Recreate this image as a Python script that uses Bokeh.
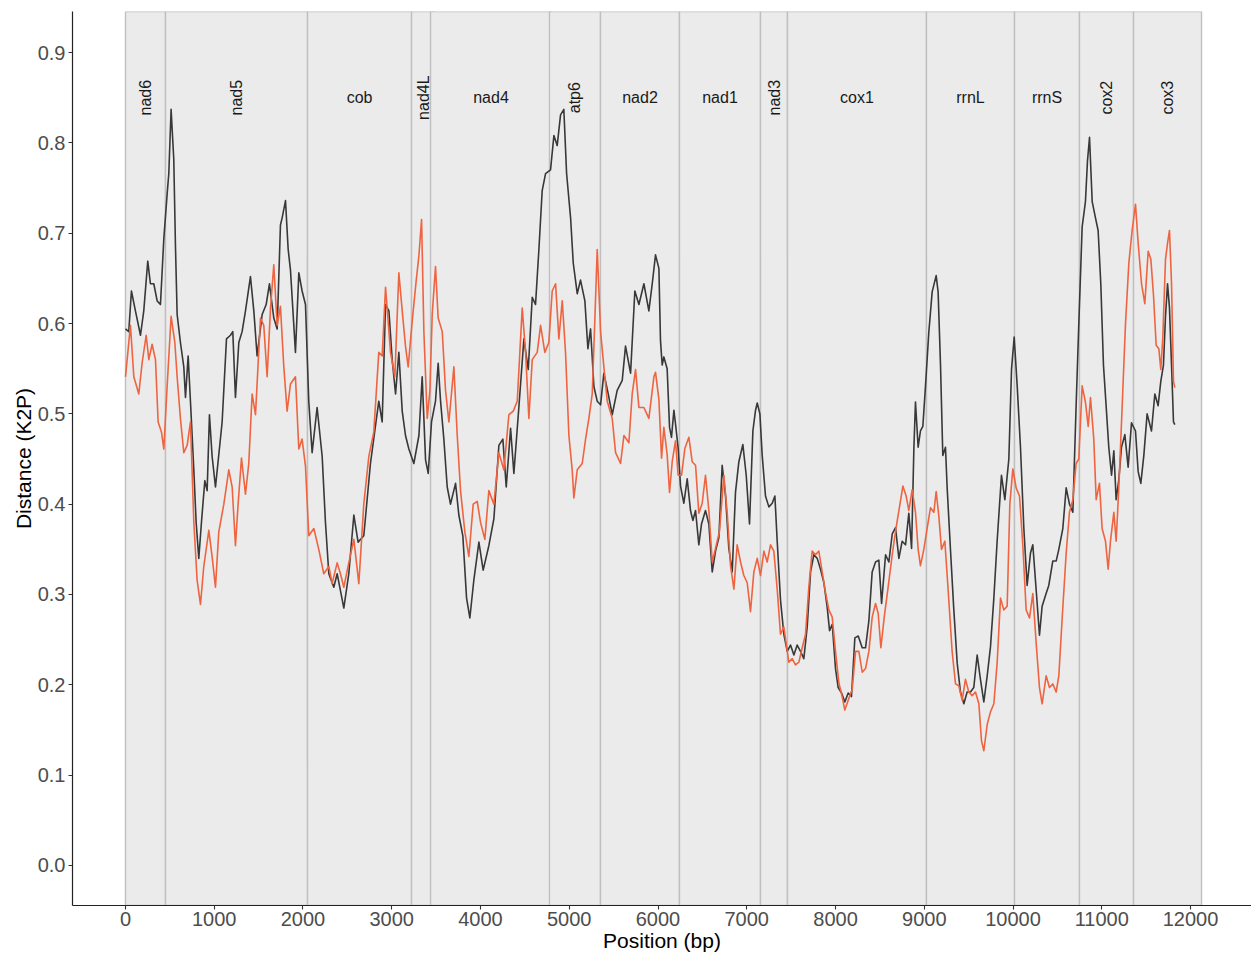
from bokeh.plotting import figure
from bokeh.models import FixedTicker, PrintfTickFormatter, NumeralTickFormatter, ColumnDataSource
from bokeh.core.properties import value
from bokeh.embed import file_html
from bokeh.resources import INLINE
import math

# ---------------- data ----------------
gene_names = ["nad6", "nad5", "cob", "nad4L", "nad4", "atp6", "nad2", "nad1",
              "nad3", "cox1", "rrnL", "rrnS", "cox2", "cox3"]
gene_start = [0, 451, 2051, 3223, 3437, 4777, 5352, 6242, 7155, 7459, 9025, 10017, 10749, 11358]
gene_end = [451, 2051, 3223, 3482, 4800, 5352, 6242, 7155, 7459, 9025, 10017, 10749, 11358, 12124]
vertical_labels = ["nad6", "nad5", "nad4L", "atp6", "nad3", "cox2", "cox3"]

dark_pos = [0, 37, 67, 112, 169, 206, 251, 281, 319, 357, 394, 432, 469, 488, 514, 544, 563, 582, 619, 657,
            676, 706, 732, 770, 796, 826, 856, 894, 920, 946, 976, 1014, 1089, 1138, 1183, 1209, 1239, 1277,
            1314, 1352, 1408, 1446, 1483, 1540, 1585, 1622, 1671, 1709, 1746, 1765, 1803, 1833, 1859, 1915,
            1953, 1990, 2028, 2065, 2103, 2159, 2216, 2253, 2291, 2347, 2385, 2460, 2516, 2573, 2621, 2685,
            2760, 2854, 2892,
            2930, 2968, 3005, 3043, 3080, 3118, 3155, 3193, 3249, 3306, 3343, 3381, 3411, 3448, 3493, 3523,
            3550, 3587, 3625, 3662, 3719, 3756, 3801, 3843, 3880, 3925, 3982, 4030, 4094, 4151, 4207, 4252,
            4290, 4339, 4376, 4432, 4489, 4538, 4583, 4620, 4658, 4695, 4733, 4789, 4827, 4864, 4902, 4939,
            4970, 5015, 5045, 5090, 5127, 5176, 5210, 5240, 5278, 5315, 5353, 5390, 5439, 5484, 5540, 5597,
            5634, 5691, 5739, 5785, 5841, 5897, 5935,
            5972, 6010, 6028, 6047, 6066, 6103, 6130, 6152, 6179, 6197, 6227, 6254, 6291, 6329, 6366, 6393,
            6423, 6460, 6490, 6535, 6573, 6611, 6648, 6686, 6723, 6761, 6798, 6836, 6873, 6911, 6956, 6994,
            7031, 7069, 7099, 7118, 7148, 7174, 7211, 7249, 7287, 7317, 7343, 7380, 7418, 7456, 7493, 7531,
            7568, 7606, 7643, 7681, 7719, 7756, 7794, 7831, 7869, 7906, 7933, 7963, 8000, 8030, 8068, 8105,
            8143, 8180, 8218, 8256, 8301, 8338, 8376, 8413, 8451, 8488, 8519, 8564, 8601, 8639, 8676, 8714,
            8751, 8789, 8826, 8857, 8883,
            8901, 8931, 8957, 8984, 9014, 9051, 9089, 9134, 9156, 9183, 9209, 9239, 9258, 9295, 9333, 9371,
            9408, 9446, 9483, 9521, 9558, 9596, 9633, 9671, 9709, 9746, 9784, 9821, 9870, 9908, 9953, 9983,
            10013, 10047, 10084, 10122, 10159, 10197, 10223, 10261, 10298, 10328, 10373, 10403, 10448, 10486,
            10516, 10561, 10599, 10636, 10674, 10711, 10741, 10779, 10816, 10839, 10862, 10892, 10929, 10959,
            10989, 11019, 11049, 11079, 11110, 11136, 11162, 11192, 11222, 11260, 11297, 11335, 11380, 11410,
            11440, 11474, 11511, 11560, 11598, 11635, 11665, 11695, 11718, 11741, 11763, 11786, 11808, 11823]
dark_k2p = [.594, .591, .636, .614, .587, .614, .669, .644, .644, .625, .621, .694, .743, .766, .837, .782, .686,
            .610, .579, .552, .518, .564, .514, .438, .380, .340, .380, .426, .415, .499, .453, .419, .491, .583,
            .587, .591, .518, .579, .591, .614, .652, .614, .564, .610, .621, .644, .606, .594, .709, .717, .736,
            .682, .659, .568, .656, .636, .621, .514, .457, .507, .453, .380, .323, .308, .323, .285, .323, .388,
            .358, .365, .445, .514, .491,
            .621, .614, .560, .522, .568, .503, .476, .461, .445, .476, .541, .449, .434, .491, .514, .556, .514,
            .472, .419, .400, .423, .388, .365, .296, .274, .316, .358, .327, .354, .384, .465, .472, .419, .484,
            .434, .507, .583, .549, .629, .621, .682, .747, .766, .770, .808, .797, .831, .837, .766, .717, .667,
            .633, .648, .625, .572, .594, .530, .514, .510, .545, .522, .499, .526, .537, .575, .545, .636, .621,
            .644, .614, .644,
            .676, .661, .581, .554, .563, .550, .485, .474, .504, .489, .462, .420, .401, .428, .393, .382, .393,
            .355, .378, .393, .378, .325, .348, .363, .443, .409, .351, .325, .413, .447, .466, .432, .378, .481,
            .504, .512, .500, .454, .409, .397, .401, .409, .359, .294, .256, .237, .244, .233, .244, .237, .229,
            .264, .325, .344, .340, .328, .313, .286, .260, .267, .218, .197, .191, .181, .191, .187, .252, .254,
            .241, .241, .271, .325, .336, .338, .290, .344, .336, .367, .374, .340, .359, .355, .390, .351, .462,
            .513, .463, .481, .486, .531, .590, .635, .653, .635, .554, .454, .463, .418, .350, .283, .224, .192,
            .179, .192, .192, .197, .233, .206, .181, .210, .242, .296, .359, .432, .405, .450, .549, .585, .531,
            .463, .373, .310, .346, .355, .305, .255, .287, .301, .310, .337, .337, .350, .373, .418, .400, .391,
            .509, .599, .707, .735, .780, .806, .735, .717, .703, .644, .554, .509, .463, .432, .459, .405, .427,
            .463, .477, .441, .490, .481, .436, .423, .454, .500, .481, .522, .509, .536, .554, .608, .644, .617,
            .554, .491, .488]

orange_pos = [0, 56, 94, 150, 187, 233, 263, 300, 338, 368, 405, 432, 469, 514, 556, 582, 619, 657, 695, 732,
              770, 807, 845, 882, 939, 976, 1014, 1051, 1108, 1164, 1202, 1239, 1269, 1307, 1352, 1389, 1427,
              1465, 1521, 1558, 1596, 1634, 1671, 1709, 1746, 1784, 1821, 1859, 1915, 1953, 1990, 2028, 2065,
              2122, 2178, 2234, 2291, 2328, 2385, 2422, 2460, 2516, 2573, 2629, 2685, 2742, 2798, 2854, 2892,
              2930, 2986, 3035, 3080, 3118, 3155, 3185, 3230, 3276, 3306, 3336, 3362, 3400, 3430, 3456, 3493,
              3523, 3569, 3606, 3644, 3700, 3738, 3775, 3824, 3869, 3918, 3963, 4000, 4049, 4094, 4151, 4207,
              4263, 4320, 4369, 4414, 4470, 4508, 4545, 4583, 4639, 4677, 4725, 4770, 4808, 4846, 4883, 4921,
              4958, 4996, 5033, 5052, 5090, 5146, 5184, 5221, 5259, 5289, 5315, 5353, 5390, 5428, 5484, 5522,
              5578, 5616, 5672, 5709, 5747, 5785, 5841, 5897, 5954,
              5972, 6010, 6040, 6066, 6103, 6130, 6160, 6197, 6227, 6265, 6303, 6348, 6385, 6423, 6460, 6498,
              6535, 6573, 6611, 6648, 6693, 6742, 6780, 6817, 6855, 6892, 6930, 6967, 7005, 7042, 7080, 7118,
              7155, 7193, 7230, 7268, 7305, 7343, 7380, 7418, 7474, 7512, 7549, 7587, 7625, 7662, 7700, 7737,
              7775, 7812, 7850, 7888, 7925, 7963, 8000, 8038, 8075, 8105, 8143, 8188, 8226, 8263, 8301, 8338,
              8376, 8413, 8451, 8481, 8511, 8549, 8594, 8639, 8676, 8721, 8759, 8796, 8826, 8864,
              8901, 8931, 8957, 8995, 9032, 9070, 9108, 9134, 9164, 9194, 9232, 9269, 9314, 9352, 9389, 9427,
              9464, 9502, 9540, 9577, 9615, 9645, 9671, 9709, 9746, 9784, 9821, 9859, 9896, 9934, 9964, 9998,
              10035, 10073, 10110, 10148, 10186, 10223, 10261, 10298, 10328, 10373, 10411, 10448, 10486, 10516,
              10554, 10599, 10636, 10674, 10711, 10741, 10779, 10816, 10847, 10873, 10910, 10937, 10974, 11004,
              11042, 11072, 11098, 11136, 11162, 11192, 11230, 11267, 11305, 11342, 11380, 11410, 11448, 11485,
              11523, 11553, 11583, 11613, 11643, 11665, 11688, 11718, 11741, 11763, 11786, 11808, 11823]
orange_k2p = [.541, .598, .541, .522, .556, .587, .560, .577, .560, .491, .480, .461, .530, .608, .579, .541,
              .495, .457, .465, .491, .380, .316, .289, .331, .371, .342, .308, .369, .400, .438, .419, .354,
              .400, .451, .411, .445, .522, .499, .606, .598, .541, .617, .665, .598, .619, .552, .503, .533,
              .541, .461, .472, .442, .365, .373, .350, .323, .331, .312, .335, .323, .308, .335, .361, .312,
              .400, .453, .480, .568, .564,
              .640, .568, .541, .656, .614, .575, .552, .602, .648, .675, .715, .591, .495, .526, .610, .663,
              .606, .591, .526, .491, .552, .476, .415, .369, .342, .400, .403, .380, .361, .415, .400, .457,
              .438, .499, .503, .514, .617, .568, .495, .560, .568, .598, .568, .579, .636, .644, .583, .625,
              .568, .476, .438, .407, .438, .445, .472, .495, .522, .606, .682, .591, .552, .514, .495, .457,
              .445, .476, .468, .522, .549, .507, .507, .495, .541,
              .546, .516, .451, .485, .455, .413, .447, .470, .432, .432, .462, .474, .447, .443, .390, .401,
              .432, .393, .336, .351, .370, .432, .390, .332, .306, .355, .336, .321, .313, .281, .325, .340,
              .321, .348, .336, .355, .348, .306, .256, .264, .225, .229, .222, .225, .241, .256, .309, .348,
              .344, .348, .325, .302, .283, .275, .237, .202, .187, .172, .183, .195, .237, .237, .214, .218,
              .237, .275, .290, .279, .241, .275, .309, .344, .370, .397, .420, .409, .393, .416,
              .391, .350, .332, .350, .373, .396, .391, .414, .387, .350, .359, .305, .237, .201, .199, .183,
              .206, .192, .188, .192, .179, .138, .127, .156, .170, .179, .224, .296, .283, .287, .400, .439,
              .418, .409, .355, .283, .274, .301, .246, .197, .179, .210, .197, .201, .192, .210, .274, .346,
              .391, .405, .445, .450, .531, .513, .486, .518, .472, .405, .423, .373, .359, .328, .359, .391,
              .359, .418, .509, .599, .667, .703, .732, .689, .644, .622, .680, .671, .631, .576, .572, .549,
              .585, .671, .689, .703, .644, .536, .529]

y_ticks = [0.0, 0.1, 0.2, 0.3, 0.4, 0.5, 0.6, 0.7, 0.8, 0.9]
x_ticks = [0, 1000, 2000, 3000, 4000, 5000, 6000, 7000, 8000, 9000, 10000, 11000, 12000]

# ---------------- plot ----------------
Y0, Y1 = -0.0443, 0.9454
p = figure(width=1251, height=956, output_backend="svg", toolbar_location=None,
           x_range=(-597, 12687), y_range=(Y0, Y1),
           min_border_left=72, min_border_right=0, min_border_top=11, min_border_bottom=51)
p.background_fill_color = "white"
p.border_fill_color = "white"
p.outline_line_color = None
p.xgrid.visible = False
p.ygrid.visible = False

genes = ColumnDataSource(dict(left=gene_start, right=gene_end,
                              bottom=[Y0] * len(gene_start), top=[Y1] * len(gene_start)))
p.quad(left="left", right="right", bottom="bottom", top="top", source=genes,
       fill_color="#ebebeb", line_color="#bfbfbf", line_width=1.4)

mid = [(s + e) / 2 for s, e in zip(gene_start, gene_end)]
hx = [m for m, n in zip(mid, gene_names) if n not in vertical_labels]
ht = [n for n in gene_names if n not in vertical_labels]
vx = [m for m, n in zip(mid, gene_names) if n in vertical_labels]
vt = [n for n in gene_names if n in vertical_labels]
p.text(x=hx, y=[0.85] * len(hx), text=ht, text_align="center", text_baseline="middle",
       text_font=value("Liberation Sans"), text_font_size="16px", text_color="#1a1a1a")
p.text(x=vx, y=[0.85] * len(vx), text=vt, text_align="center", text_baseline="middle", angle=math.pi / 2,
       text_font=value("Liberation Sans"), text_font_size="16px", text_color="#1a1a1a")

p.line(dark_pos, dark_k2p, line_color="#383838", line_width=1.6, line_join="round")
p.line(orange_pos, orange_k2p, line_color="#ef6440", line_width=1.6, line_join="round")

for ax in (p.xaxis[0], p.yaxis[0]):
    ax.axis_line_color = "#222222"
    ax.axis_line_width = 1.2
    ax.major_tick_line_color = "#333333"
    ax.major_tick_line_width = 1.1
    ax.major_tick_out = 4
    ax.major_tick_in = 0
    ax.minor_tick_line_color = None
    ax.major_label_text_font = "Liberation Sans"
    ax.major_label_text_font_size = "20px"
    ax.major_label_text_color = "#4d4d4d"
    ax.axis_label_text_font = "Liberation Sans"
    ax.axis_label_text_font_size = "21px"
    ax.axis_label_text_font_style = "normal"
    ax.axis_label_text_color = "#000000"
    ax.axis_label_standoff = 0

p.xaxis.ticker = FixedTicker(ticks=x_ticks)
p.xaxis.formatter = NumeralTickFormatter(format="0")
p.yaxis.ticker = FixedTicker(ticks=y_ticks)
p.yaxis.formatter = PrintfTickFormatter(format="%.1f")
p.xaxis.axis_label = "Position (bp)"
p.yaxis.axis_label = "Distance (K2P)"
p.xaxis.major_label_standoff = 2
p.yaxis.major_label_standoff = 3

open("out.html", "w").write(file_html(p, INLINE))
